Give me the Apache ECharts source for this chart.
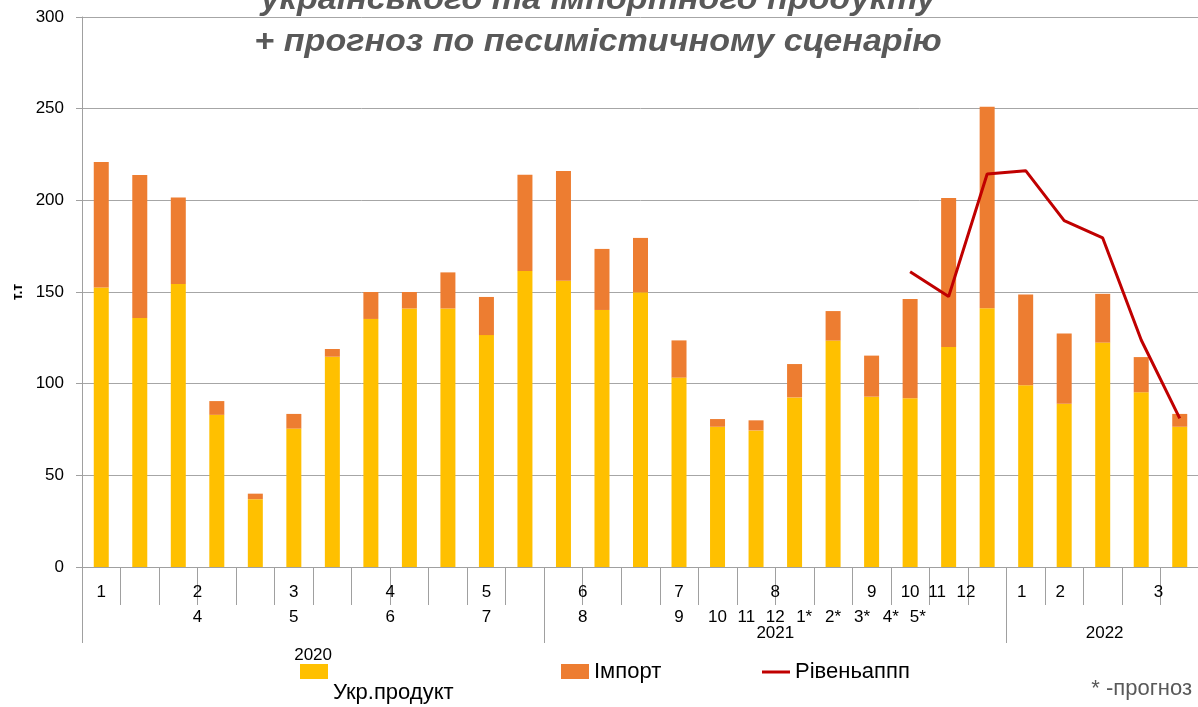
<!DOCTYPE html>
<html>
<head>
<meta charset="utf-8">
<script src="https://cdn.jsdelivr.net/npm/echarts@6/dist/echarts.min.js"></script>
<style>
  html, body { margin: 0; padding: 0; background: #fff; }
  #chart { width: 1198px; height: 707px; }
</style>
</head>
<body>
<div id="chart"></div>
<script>
// місяці (29 стовпчиків)
var categories = ['1', '2', '3', '4', '5', '6', '7', '8', '9', '10', '11', '12', '13', '14', '15',
  '16', '17', '18', '19', '20', '21', '22', '23', '24', '25', '26', '27', '28', '29'];

var ukrProduct = [152.4, 135.8, 154.4, 83, 37, 75.5, 114.7, 135.3, 141, 141, 126.5, 161.5, 156.2, 140.2,
  149.8, 103.3, 76.5, 74.5, 92.5, 123.5, 92.9, 92, 120, 141.1, 99.2, 89.1, 122.4, 95.3, 76.5];
var importVal = [68.5, 78, 47.2, 7.5, 3, 8, 4.2, 14.7, 9, 19.7, 20.8, 52.5, 59.8, 33.3,
  29.7, 20.3, 4.2, 5.5, 18.2, 16.1, 22.4, 54.2, 81.3, 109.9, 49.4, 38.3, 26.6, 19.2, 7];
var rivenData = [null, null, null, null, null, null, null, null, null, null, null, null, null, null,
  null, null, null, null, null, null, null, 161.1, 147.5, 214.4, 216.2, 188.9, 179.5, 123.8, 81.1];

// підписи осі X (криві, як в оригіналі)
var row1Labels = ['1', '2', '3', '4', '5', '6', '7', '8', '9', '10', '11', '12', '1', '2', '3'];
var row2Labels = ['4', '5', '6', '7', '8', '9', '10', '11', '12', '1*', '2*', '3*', '4*', '5*'];
var row3Labels = ['2021', '2022'];
var row4Labels = ['2020'];

// позиції підписів (в одиницях індексу категорії)
var row1Pos = [0, 2.5, 5, 7.5, 10, 12.5, 15, 17.5, 20, 21, 21.7, 22.45, 23.9, 24.9, 27.45];
var row2Pos = [2.5, 5, 7.5, 10, 12.5, 15, 16, 16.75, 17.5, 18.25, 19, 19.75, 20.5, 21.2];
var row3Pos = [17.5, 26.05];
var row4Pos = [5.5];
var yearBounds = [-0.5, 11.5, 23.5];

var myChart = echarts.init(document.getElementById('chart'));

var labelFont = 'Liberation Sans, Arial, sans-serif';

function rowAxis(labels, pos, margin) {
  return {
    type: 'value',
    position: 'bottom',
    min: -0.5,
    max: 28.5,
    axisLine: { show: false },
    splitLine: { show: false },
    axisTick: { show: false },
    axisLabel: {
      show: true,
      customValues: pos,
      margin: margin,
      fontSize: 17,
      color: '#000',
      fontFamily: labelFont,
      formatter: function (v) {
        var i = pos.indexOf(v);
        return i >= 0 ? labels[i] : '';
      }
    }
  };
}

var option = {
  animation: false,
  grid: { left: 82, right: -1, top: 17, bottom: 140, outerBoundsMode: 'none' },
  graphic: [
    {
      type: 'text', x: 598, y: 0.5, scaleX: 1.1,
      style: {
        text: 'українського та імпортного продукту',
        font: 'italic bold 31px "Liberation Sans", Arial, sans-serif',
        fill: '#595959', align: 'center', verticalAlign: 'middle'
      }
    },
    {
      type: 'text', x: 598, y: 42.5, scaleX: 1.1,
      style: {
        text: '+ прогноз по песимістичному сценарію',
        font: 'italic bold 31px "Liberation Sans", Arial, sans-serif',
        fill: '#595959', align: 'center', verticalAlign: 'middle'
      }
    },
    {
      type: 'text', right: 6, top: 678,
      style: {
        text: '* -прогноз',
        font: '22px "Liberation Sans", Arial, sans-serif',
        fill: '#595959'
      }
    }
  ],
  legend: [
    {
      data: ['Укр.продукт'], left: 300, top: 629.5, padding: 0,
      itemWidth: 28, itemHeight: 15, icon: 'rect',
      formatter: '\n{name}',
      textStyle: { fontSize: 22, lineHeight: 42, color: '#000', fontFamily: labelFont }
    },
    {
      data: ['Імпорт'], left: 561, top: 660.5, padding: 0,
      itemWidth: 28, itemHeight: 15, icon: 'rect',
      textStyle: { fontSize: 22, color: '#000', fontFamily: labelFont }
    },
    {
      data: ['Рівеньаппп'], left: 762, top: 661, padding: 0,
      itemWidth: 28, itemHeight: 3, icon: 'rect',
      textStyle: { fontSize: 22, color: '#000', fontFamily: labelFont }
    }
  ],
  xAxis: [
    {
      type: 'category',
      data: categories,
      boundaryGap: true,
      axisLine: { show: true, lineStyle: { color: '#a0a0a0' } },
      axisTick: { show: true, interval: 0, length: 38, lineStyle: { color: '#a0a0a0' } },
      axisLabel: { show: false, interval: 0 },
      splitLine: { show: false }
    },
    rowAxis(row1Labels, row1Pos, 17),
    rowAxis(row2Labels, row2Pos, 42),
    rowAxis(row3Labels, row3Pos, 58),
    rowAxis(row4Labels, row4Pos, 80),
    {
      type: 'value',
      position: 'bottom',
      min: -0.5,
      max: 28.5,
      axisLine: { show: false },
      splitLine: { show: false },
      axisLabel: { show: false },
      axisTick: { show: true, customValues: yearBounds, length: 76, lineStyle: { color: '#a0a0a0' } }
    }
  ],
  yAxis: {
    type: 'value',
    min: 0,
    max: 300,
    interval: 50,
    name: 'т.т',
    nameLocation: 'middle',
    nameGap: 57,
    nameTextStyle: { fontSize: 14, fontWeight: 'bold', color: '#000', fontFamily: labelFont },
    axisLine: { show: true, onZero: false, lineStyle: { color: '#a0a0a0' } },
    axisTick: { show: true, length: 6, lineStyle: { color: '#a0a0a0' } },
    axisLabel: { fontSize: 17, color: '#000', margin: 18, fontFamily: labelFont },
    splitLine: { show: true, lineStyle: { color: '#a6a6a6' } }
  },
  series: [
    {
      name: 'Укр.продукт',
      type: 'bar',
      stack: 'total',
      barWidth: 15,
      data: ukrProduct,
      itemStyle: { color: '#FFC000' }
    },
    {
      name: 'Імпорт',
      type: 'bar',
      stack: 'total',
      barWidth: 15,
      data: importVal,
      itemStyle: { color: '#ED7D31' }
    },
    {
      name: 'Рівеньаппп',
      type: 'line',
      data: rivenData,
      symbol: 'none',
      color: '#C00000',
      lineStyle: { color: '#C00000', width: 3 },
      itemStyle: { color: '#C00000' }
    }
  ]
};

myChart.setOption(option);
</script>
</body>
</html>
